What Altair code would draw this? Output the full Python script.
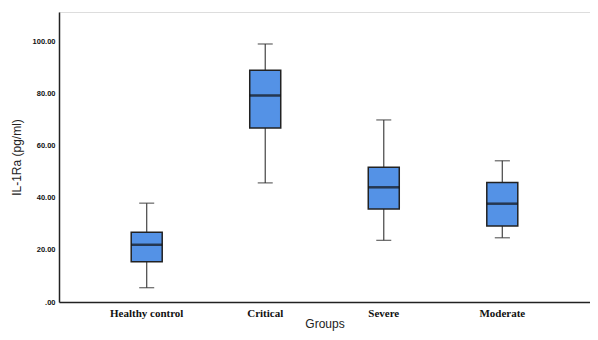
import altair as alt
import pandas as pd

groups = ["Healthy control", "Critical", "Severe", "Moderate"]
whisker_low = [5.5, 45.8, 23.7, 24.7]
q1 = [15.5, 66.9, 35.8, 29.2]
median = [22.0, 79.4, 44.1, 37.8]
q3 = [26.8, 89.1, 51.8, 45.9]
whisker_high = [38.0, 99.2, 70.0, 54.3]
y_ticks = [0, 20, 40, 60, 80, 100]

df = pd.DataFrame({
    "group": groups,
    "low": whisker_low,
    "q1": q1,
    "median": median,
    "q3": q3,
    "high": whisker_high,
})

x = alt.X("group:N", sort=groups, title="Groups",
          scale=alt.Scale(paddingInner=0, paddingOuter=0.24),
          axis=alt.Axis(labelAngle=0, ticks=False, labelFont="Liberation Serif",
                        labelFontWeight="bold", labelFontSize=11, labelColor="#111",
                        labelPadding=5, titleFont="Liberation Sans", titleFontSize=12,
                        titleFontWeight="normal", titleColor="#222", titlePadding=0,
                        domainColor="#222", domainWidth=1.5))
yscale = alt.Scale(domain=[0, 111.5], nice=False, zero=True)
y_axis = alt.Axis(values=y_ticks, ticks=False, grid=False,
                  labelExpr="datum.value == 0 ? '.00' : format(datum.value, '.2f')",
                  labelFont="Liberation Sans", labelFontWeight="bold", labelFontSize=7.5,
                  labelColor="#111", labelPadding=4,
                  titleFont="Liberation Sans", titleFontSize=12, titleFontWeight="normal",
                  titleColor="#222", titlePadding=9, domainColor="#222", domainWidth=1.5)

base = alt.Chart(df)

whisk = base.mark_rule(color="#444", strokeWidth=1.2).encode(
    x=x, y=alt.Y("low:Q", scale=yscale, axis=y_axis, title="IL-1Ra (pg/ml)"), y2="high:Q")
box = base.mark_bar(size=31, color="#5492E6", stroke="#222", strokeWidth=1.5).encode(
    x=x, y=alt.Y("q1:Q", scale=yscale), y2="q3:Q")
med = base.mark_tick(size=31, thickness=2.5, color="#111").encode(
    x=x, y=alt.Y("median:Q", scale=yscale))
cap_lo = base.mark_tick(size=15, thickness=1.3, color="#333").encode(
    x=x, y=alt.Y("low:Q", scale=yscale))
cap_hi = base.mark_tick(size=15, thickness=1.3, color="#333").encode(
    x=x, y=alt.Y("high:Q", scale=yscale))

chart = alt.layer(whisk, box, med, cap_lo, cap_hi).properties(
    width=531, height=290, autosize="none",
    padding={"left": 51, "top": 4, "right": 0, "bottom": 30},
).configure_view(stroke=None).configure(background="white")

chart.save("out.html", embed_options={"renderer": "svg", "actions": False})
